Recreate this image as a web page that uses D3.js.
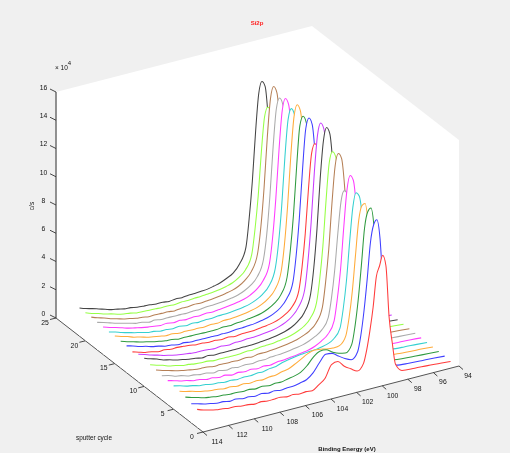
<!DOCTYPE html>
<html><head><meta charset="utf-8">
<script src="https://d3js.org/d3.v7.min.js"></script>
<style>html,body{margin:0;padding:0;background:#f0f0f0}svg{display:block;filter:blur(.35px)}text{font-family:"Liberation Sans",Arial,sans-serif;fill:#111}</style>
</head><body><div id="chart"></div>
<script>
const title="Si2p", xLabel="Binding Energy (eV)", yLabel="sputter cycle", zLabel="c/s";
const xTicks=[114,112,110,108,106,104,102,100,98,96,94];
const yTicks=[0,5,10,15,20,25];
const zTicks=[0,2,4,6,8,10,12,14,16];
const energies=[114,113.5,113,112.5,112,111.5,111,110.5,110,109.5,109,108.5,108,107.5,107,106.5,106,105.5,105,104.5,104,103.5,103,102.5,102,101.5,101,100.75,100.5,100.25,100,99.75,99.5,99.25,99,98.75,98.5,98,97,96,95,94.2];
const colors=["#ff3b3b","#3f3fff","#2f9a3f","#ffab3a","#35d0d0","#ff3cff","#aaaaaa","#b57f55","#96ff45","#444444","#c83cff"];
const s01=[1.28,1.12,1.0,.9,.86,.78,.78,.7,.68,.6,.66,.58,.6,.62,.53,.58,.5,.55,.5,.8,1.15,2.0,2.1,1.65,1.35,1.07,1.5,2.4,3.7,5.3,7.4,8.1,8.8,8.0,4.3,2.4,.85,.3,.22,.17,.1,.05];
const s02=[1.35,1.24,1.1,1.02,.92,.92,.82,.88,.78,.8,.72,.79,.7,.76,.68,.74,.74,.84,.95,1.3,1.9,2.4,2.35,2.05,1.75,1.55,2.0,3.1,4.8,7.0,9.5,10.7,11,9.6,5.8,3,1.1,.35,.25,.2,.15,.1];
const s03=[1.5,1.36,1.24,1.1,1.04,.96,.95,.88,.9,.84,.88,.8,.87,.78,.84,.82,.92,1,1.15,1.5,2.0,2.3,2.28,2.0,1.8,1.7,2.2,3.4,5.2,7.6,10.2,11.3,11.5,10,6.2,3.1,1.2,.38,.26,.2,.15,.1];
const s04=[1.6,1.46,1.36,1.22,1.14,1.06,1.04,.96,.98,.9,.96,.88,.94,.88,.97,.98,1.1,1.18,1.4,1.65,1.9,2.05,2.0,1.9,1.85,1.9,2.5,3.7,5.5,8,10.4,11.4,11.5,9.9,6.2,3.1,1.2,.4,.27,.2,.16,.1];
const s05=[1.65,1.54,1.4,1.32,1.2,1.16,1.06,1.05,.98,1,.94,1,.96,1.03,1.02,1.12,1.16,1.32,1.42,1.5,1.55,1.6,1.62,1.7,1.8,2.05,2.7,4,5.9,8.6,11,12,11.7,10,6.3,3.2,1.2,.4,.27,.2,.15,.1];
const s06=[1.7,1.58,1.44,1.36,1.22,1.2,1.08,1.08,.98,1.04,.92,1,.92,.98,.9,.98,.92,1.02,1.04,1.1,1.15,1.22,1.3,1.45,1.7,2.05,2.9,4.4,6.4,9.3,11.9,12.9,12.5,10.4,6.8,3.4,1.3,.4,.28,.2,.16,.1];
const s07=[1.72,1.62,1.46,1.38,1.24,1.2,1.1,1.1,.98,1.04,.94,1.0,.93,.99,.93,1,.98,1.06,1.08,1.12,1.18,1.25,1.34,1.5,1.72,2.05,2.8,4.1,6,8.6,10.8,11.5,11.2,9.3,6,3,1.15,.38,.26,.2,.15,.1];
const s08=[1.8,1.66,1.54,1.4,1.3,1.22,1.14,1.1,1.08,1.0,1.02,1.0,1.0,.98,1.04,.98,1.07,1.06,1.1,1.14,1.2,1.28,1.38,1.55,1.78,2.2,3.2,4.9,7.2,10.4,13,13.8,13.4,11.2,7.3,3.7,1.4,.42,.28,.22,.16,.1];
const s09=[1.85,1.7,1.58,1.42,1.34,1.22,1.18,1.1,1.06,1.06,.98,1,.98,.98,.98,1.04,1.02,1.08,1.1,1.12,1.2,1.26,1.36,1.52,1.76,2.2,3.2,4.8,7.1,10.3,12.9,13.6,13.2,11,7.2,3.6,1.35,.42,.28,.2,.16,.1];
const s10=[2,1.84,1.7,1.52,1.42,1.28,1.2,1.1,1.06,.96,1.02,.94,.96,.95,.96,.96,.98,.98,1.03,1.06,1.12,1.2,1.32,1.5,1.8,2.3,3.5,5.3,8,11.5,14.1,15,14.5,12.1,7.9,3.9,1.5,.42,.3,.22,.16,.1];
const s11=[1.95,1.82,1.66,1.54,1.4,1.3,1.2,1.14,1.08,1.02,1.03,1.0,.96,1.02,.95,1.02,1,1.06,1.06,1.1,1.15,1.22,1.34,1.52,1.82,2.35,3.5,5.4,8.1,11.6,14.2,15,14.5,12.1,7.9,3.9,1.5,.44,.3,.22,.16,.1];
const s12=[1.8,1.66,1.52,1.46,1.34,1.36,1.28,1.3,1.26,1.22,1.14,1.14,1.08,1.1,1.04,1.1,1.02,1.08,1.08,1.1,1.16,1.22,1.3,1.45,1.7,2.1,3.1,4.7,7,10.1,12.6,13.2,12.8,10.7,7,3.5,1.3,.4,.28,.2,.15,.1];
const s13=[1.9,1.78,1.62,1.52,1.38,1.3,1.18,1.14,1.04,1.08,1.0,1.02,1.0,1.0,.98,1.0,1.0,1.06,1.06,1.1,1.14,1.22,1.32,1.5,1.78,2.3,3.4,5.2,7.8,11.2,14,14.7,14.2,11.8,7.7,3.8,1.45,.42,.28,.22,.16,.1];
const s14=[1.9,1.76,1.64,1.5,1.4,1.28,1.2,1.12,1.1,1.0,1.02,1.0,1.0,.98,.98,.98,1.04,1.01,1.08,1.1,1.16,1.22,1.32,1.5,1.78,2.25,3.4,5.2,7.7,11.1,13.9,14.5,14,11.7,7.6,3.8,1.45,.42,.28,.2,.16,.1];
const s15=[1.95,1.8,1.68,1.52,1.42,1.28,1.2,1.12,1.04,1.06,.98,1.0,.98,.98,.96,1.02,.98,1.06,1.06,1.1,1.16,1.24,1.34,1.52,1.82,2.3,3.5,5.3,8,11.5,14.2,15,14.5,12.1,7.9,3.9,1.5,.44,.3,.22,.16,.1];
const s16=[1.92,1.8,1.64,1.52,1.4,1.3,1.18,1.14,1.04,1.04,.98,1.04,.95,1.02,.96,1.02,1,1.06,1.06,1.1,1.15,1.22,1.32,1.5,1.78,2.25,3.4,5.1,7.7,11.1,13.7,14.4,13.9,11.6,7.6,3.8,1.45,.42,.28,.2,.16,.1];
const s17=[1.95,1.8,1.68,1.54,1.4,1.3,1.2,1.12,1.06,1.0,1.05,.96,1.02,.95,1,.98,1.04,1.0,1.06,1.1,1.16,1.24,1.34,1.52,1.8,2.3,3.4,5.2,7.9,11.3,14,14.8,14.3,11.9,7.8,3.9,1.45,.42,.28,.22,.16,.1];
const s18=[1.95,1.82,1.68,1.54,1.42,1.3,1.18,1.14,1.02,1.06,.98,1.0,.98,.98,.96,1,1,1.06,1.06,1.1,1.15,1.22,1.32,1.5,1.78,2.25,3.4,5.1,7.8,11.2,13.8,14.5,14,11.7,7.6,3.8,1.45,.42,.28,.2,.16,.1];
const s19=[2,1.84,1.7,1.54,1.42,1.28,1.2,1.1,1.06,.98,1.0,.98,.98,.92,.98,.96,1.02,1.0,1.04,1.08,1.14,1.22,1.32,1.5,1.8,2.3,3.5,5.3,8,11.5,14.2,15,14.5,12.1,7.9,3.9,1.5,.44,.3,.22,.16,.1];
const s20=[1.98,1.82,1.7,1.54,1.44,1.3,1.2,1.14,1.04,1.02,1.0,.98,.96,.96,.94,1,.98,1.02,1.04,1.08,1.12,1.18,1.28,1.42,1.68,2.1,3.1,4.8,7.1,10.2,12.6,13.2,12.8,10.7,7,3.5,1.3,.4,.28,.2,.16,.1];
const s21=[2,1.84,1.72,1.58,1.44,1.3,1.22,1.12,1.09,1.0,.96,.94,.88,.89,.83,.89,.86,.92,.93,.96,1,1.1,1.22,1.42,1.67,2.2,3.25,5.2,7.8,11.2,13.9,14.7,14.3,11.9,7.8,3.9,1.45,.42,.28,.2,.16,.1];
const spectra=[s01,s02,s03,s04,s05,s06,s07,s08,s09,s10,s11,s12,s13,s14,s15,s16,s17,s18,s19,s20,s21];

const W=510,H=453,ox=203,oy=432;
const xPx=d3.scaleLinear([114,94],[0,256]), xPy=d3.scaleLinear([114,94],[0,-66]);
const yPx=d3.scaleLinear([0,25],[0,-147]), yPy=d3.scaleLinear([0,25],[0,-114]);
const zPy=d3.scaleLinear([0,16],[0,-226]);
const px=(x,y)=>ox+xPx(x)+yPx(y);
const py=(x,y,z)=>oy+xPy(x)+yPy(y)+zPy(z);
const svg=d3.select("#chart").append("svg").attr("width",W).attr("height",H).attr("viewBox",[0,0,W,H]);
svg.append("rect").attr("width",W).attr("height",H).attr("fill","#f0f0f0");
const pts=[[114,25,0],[114,0,0],[94,0,0],[94,0,16],[94,25,16],[114,25,16]];
svg.append("polygon").attr("fill","#fff").attr("points",pts.map(p=>[px(p[0],p[1]),py(p[0],p[1],p[2])].join(",")).join(" "));
const axisLine=(a,b,w,c)=>svg.append("line").attr("x1",px(a[0],a[1])).attr("y1",py(...a)).attr("x2",px(b[0],b[1])).attr("y2",py(...b)).attr("stroke",c).attr("stroke-width",w);
axisLine([114,25,0],[114,0,0],1,"#555");
axisLine([114,0,0],[94,0,0],1,"#555");
axisLine([114,25,0],[114,25,16],1.6,"#777");
const tick=(x0,y0,dx,dy)=>svg.append("line").attr("x1",x0).attr("y1",y0).attr("x2",x0+dx).attr("y2",y0+dy).attr("stroke","#333").attr("stroke-width",.9);
const lab=(x,y,s,fs=6.8)=>svg.append("text").attr("x",x).attr("y",y).attr("text-anchor","middle").attr("dominant-baseline","middle").attr("font-size",fs).text(s);
xTicks.forEach(v=>{const x0=px(v,0),y0=py(v,0,0);tick(x0,y0,4,3.5);lab(x0+9+(v-94)*.25,y0+10,v);});
yTicks.forEach(v=>{const x0=px(114,v),y0=py(114,v,0);tick(x0,y0,-6,1.5);lab(x0-11,y0+5,v);});
zTicks.forEach(v=>{const x0=px(114,25),y0=py(114,25,v);tick(x0,y0,-6,-3);lab(x0-12.5,y0-4,v);});
const line=d3.line().x(d=>px(d[0],d[1])).y(d=>py(d[0],d[1],d[2])).curve(d3.curveMonotoneX);
d3.range(spectra.length-1,-1,-1).forEach(i=>{
  const k=i+1;
  const row=spectra[i].map((z,j)=>[energies[j],k,z]);
  const e0=energies[0],e1=energies[energies.length-1];
  const d=line(row);
  svg.append("path").attr("d",`${d}L${px(e1,k)},${py(e1,k,0)}L${px(e0,k)},${py(e0,k,0)}Z`).attr("fill","#fff").attr("stroke","none");
  svg.append("path").attr("d",d).attr("fill","none").attr("stroke",colors[i%colors.length]).attr("stroke-width",1.05).attr("stroke-linejoin","round");
});
svg.append("text").attr("x",257).attr("y",23).attr("text-anchor","middle").attr("dominant-baseline","middle").attr("font-size",6).attr("font-weight","bold").style("fill","#ff2020").text(title);
lab(347,449,xLabel,6).attr("font-weight","bold");
lab(94,438,yLabel,6.4);
svg.append("text").attr("transform","translate(32,206) rotate(-90)").attr("text-anchor","middle").attr("dominant-baseline","middle").attr("font-size",6.5).text(zLabel);
const mult=svg.append("text").attr("x",55).attr("y",70).attr("font-size",6.5);
mult.append("tspan").text("× 10");
mult.append("tspan").attr("dy",-5).attr("font-size",6).text("4");
</script></body></html>
